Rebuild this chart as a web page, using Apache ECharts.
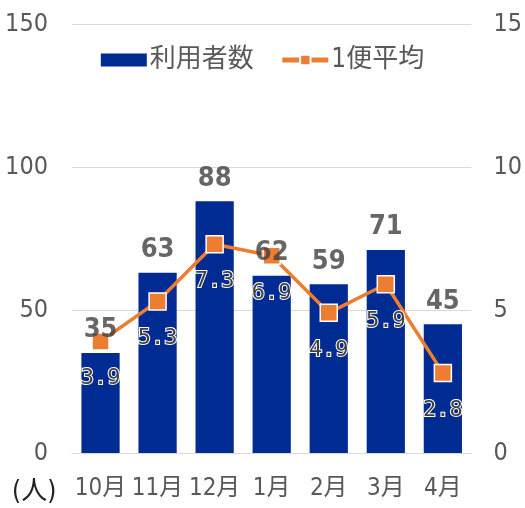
<!DOCTYPE html>
<html>
<head>
<meta charset="utf-8">
<script src="https://cdn.jsdelivr.net/npm/echarts@6/dist/echarts.min.js"></script>
<style>
  html, body { margin: 0; padding: 0; background: #fff; }
  #chart { width: 525px; height: 508px; }
</style>
</head>
<body>
<div id="chart"></div>
<script>
// データ
const months = ['10月', '11月', '12月', '1月', '2月', '3月', '4月']
const users = [35, 63, 88, 62, 59, 71, 45]
const perTrip = [3.9, 5.3, 7.3, 6.9, 4.9, 5.9, 2.8]
const leftTicks = [0, 50, 100, 150]
const rightTicks = [0, 5, 10, 15]

const FONT = "'DejaVu Sans Condensed', 'Noto Sans CJK JP', sans-serif"

const chart = echarts.init(document.getElementById('chart'))

chart.setOption({
  animation: false,
  textStyle: { fontFamily: FONT },
  legend: {
    top: 42,
    left: 'center',
    itemGap: 26,
    itemWidth: 46,
    itemHeight: 13,
    textStyle: { fontSize: 26, color: '#595959', fontFamily: FONT, padding: [0, 0, 0, -2] },
    data: [
      { name: '利用者数', icon: 'rect' },
      { name: '1便平均', lineStyle: { width: 5 } }
    ]
  },
  grid: { left: 72, right: 53, top: 24, bottom: 55 },
  graphic: [{
    type: 'text',
    left: 12,
    top: 479,
    style: { text: '(人)', fontSize: 26, fill: '#222', fontFamily: FONT }
  }],
  xAxis: {
    type: 'category',
    data: months,
    axisLine: { lineStyle: { color: '#D9D9D9', width: 1 } },
    axisTick: { show: false },
    axisLabel: { interval: 0, fontSize: 24, color: '#595959', margin: 24, fontFamily: FONT }
  },
  yAxis: [
    {
      type: 'value',
      min: leftTicks[0],
      max: leftTicks[leftTicks.length - 1],
      interval: 50,
      axisLine: { show: false },
      axisTick: { show: false },
      splitLine: { lineStyle: { color: '#D9D9D9', width: 1 } },
      axisLabel: { fontSize: 25, color: '#595959', margin: 24, fontFamily: FONT }
    },
    {
      type: 'value',
      min: rightTicks[0],
      max: rightTicks[rightTicks.length - 1],
      interval: 5,
      axisLine: { show: false },
      axisTick: { show: false },
      splitLine: { show: false },
      axisLabel: { fontSize: 25, color: '#595959', margin: 22, fontFamily: FONT }
    }
  ],
  series: [
    {
      name: '利用者数',
      type: 'bar',
      data: users,
      barWidth: '67%',
      itemStyle: { color: '#002B92' }
    },
    {
      name: '1便平均',
      type: 'line',
      yAxisIndex: 1,
      data: perTrip,
      symbol: 'rect',
      symbolSize: 17,
      lineStyle: { color: '#ED7D31', width: 3.5 },
      itemStyle: { color: '#ED7D31', borderColor: '#fff', borderWidth: 1.5 },
      label: {
        show: true,
        position: 'bottom',
        distance: 17,
        fontSize: 22,
        color: '#404040',
        textBorderColor: '#fff',
        textBorderWidth: 2,
        fontFamily: "'DejaVu Sans Mono', monospace",
        formatter: p => p.value.toFixed(1)
      }
    },
    {
      // 棒の数値ラベル（マーカーより前面に描く）
      name: 'userLabels',
      type: 'scatter',
      data: users,
      symbolSize: 0,
      z: 10,
      silent: true,
      tooltip: { show: false },
      label: {
        show: true,
        position: 'top',
        distance: 9,
        fontSize: 27,
        fontWeight: 'bold',
        color: '#404040',
        fontFamily: FONT
      }
    }
  ]
})
</script>
</body>
</html>
